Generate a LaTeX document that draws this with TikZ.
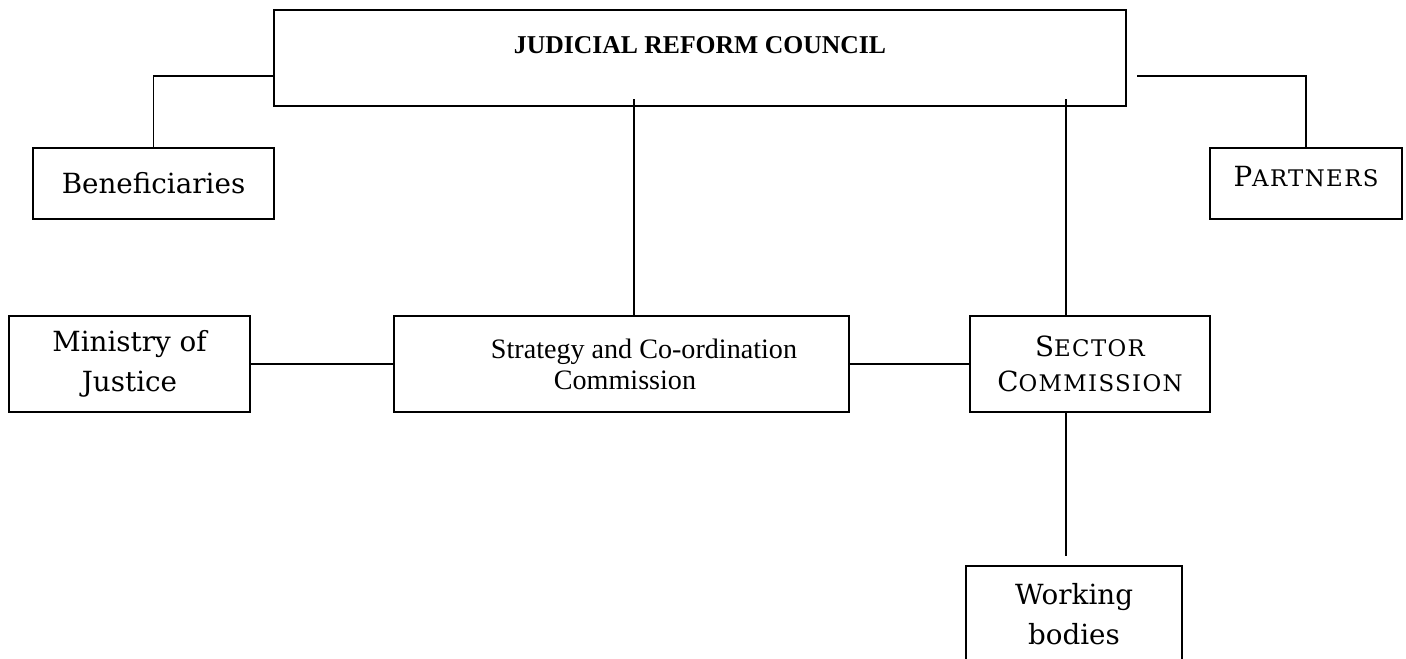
\documentclass[tikz,border=0pt]{standalone}
\usepackage{fontspec}
\setmainfont{DejaVu Serif}
\newfontfamily\timesfont{Liberation Serif}
\newfontfamily\scfont[LetterSpace=6]{DejaVu Serif}
\usepackage{tikz}
\usetikzlibrary{positioning}
\newcommand{\capsc}[2]{#1{\scfont\fontsize{13}{22.5}\selectfont #2}}
\tikzstyle{line} = [line width=1.1pt]
\tikzstyle{orgbox} = [rectangle, draw, line width=1.1pt, outer sep=0pt, minimum width=4.82cm, minimum height=1.92cm, text centered, align=center, font=\fontsize{15.8}{22.5}\selectfont]

\begin{document}
\begin{tikzpicture}[node distance=1cm]
\useasboundingbox (0,0) rectangle (28.12,-13.16);

% Council
\node[orgbox, minimum width=17.04cm, text height=0.35cm, text depth=0.55cm, font=\timesfont\bfseries\fontsize{14.6}{17}\selectfont] (council) at (14,-1.16) {JUDICIAL REFORM COUNCIL};

% Beneficiaries
\node[orgbox, minimum height=1.42cm] (benef) at (3.07,-3.67) {Beneficiaries};

% Partners
\node[orgbox, minimum width=3.84cm, minimum height=1.42cm, text depth=0.3cm] (partners) at (26.12,-3.67) {\capsc{P}{ARTNERS}};

% Strategy
\node[orgbox, minimum width=9.1cm, font=\timesfont\fontsize{16}{17.6}\selectfont] (strategy) at (12.43,-7.28) {\hspace*{0.9cm}Strategy and Co-ordination\\\hspace*{0.14cm}Commission};

% Ministry
\node[orgbox, left=2.88cm of strategy] (ministry) {Ministry of\\Justice};

% Sector
\node[orgbox, right=2.42cm of strategy, minimum width=4.8cm, font=\fontsize{15.8}{19.5}\selectfont] (sector) {\capsc{S}{ECTOR}\\\capsc{C}{OMMISSION}};

% Working bodies
\node[orgbox, below=3.08cm of sector, xshift=-0.32cm, minimum width=4.32cm] (working) {Working\\bodies};

\draw[line] ([yshift=-0.36cm]council.west) -| (benef.north);
\draw[line] ([xshift=0.22cm,yshift=-0.36cm]council.east) -| (partners.north);
\draw[line] (ministry) -- (strategy);
\draw[line] (strategy) -- (sector);
\draw[line] ([xshift=0.25cm]strategy.north) -- ++(0,4.34);
\draw[line] ([xshift=-0.48cm]sector.north) -- ++(0,4.34);
\draw[line] ([xshift=-0.48cm]sector.south) -- ++(0,-2.88);
\end{tikzpicture}
\end{document}
